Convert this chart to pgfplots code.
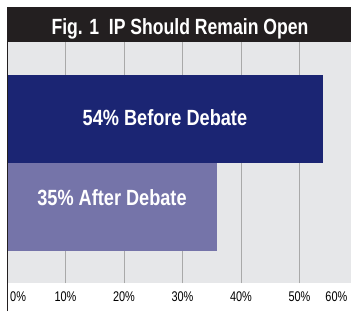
\documentclass[border=0pt]{standalone}
\usepackage{fontspec}
\usepackage{pgfplots}
\pgfplotsset{compat=1.18}
\newfontfamily\condt[FakeStretch=0.80]{Liberation Sans}
\newfontfamily\condb[FakeStretch=0.825]{Liberation Sans}
\newfontfamily\cond[FakeStretch=0.78]{Liberation Sans}
\definecolor{navy}{HTML}{1B2573}
\definecolor{lav}{HTML}{7574A9}
\definecolor{bg}{HTML}{E6E7E9}
\definecolor{gridc}{HTML}{A9A9A9}
\definecolor{titlebk}{HTML}{231F20}
\begin{document}
\begin{tikzpicture}
\fill[white] (0pt,0pt) rectangle (351pt,311pt);
\fill[titlebk] (7pt,269pt) rectangle (351pt,304pt);
\node[text=white, anchor=base, inner sep=0pt, font=\condt\bfseries\fontsize{22}{24}\selectfont] at (180pt,276.7pt) {Fig. 1\ \ IP Should Remain Open};
\begin{axis}[at={(7pt,28pt)}, anchor=south west, scale only axis,
  width=344pt, height=241pt,
  xmin=0, xmax=58.8, ymin=-0.858, ymax=1.88,
  axis background/.style={fill=bg},
  axis line style={draw=none},
  xbar, bar width=1, bar shift=0pt,
  ytick=\empty,
  xtick={10,20,30,40,50},
  xticklabels={10\%,20\%,30\%,40\%,50\%},
  extra x ticks={1.9,56.3},
  extra x tick labels={0\%,60\%},
  extra x tick style={grid=none},
  xmajorgrids, grid style={draw=gridc, line width=0.8pt},
  major tick length=0pt,
  xticklabel style={anchor=base, yshift=-18.7pt, inner sep=0pt, font=\cond\fontsize{14}{16}\selectfont},
  clip=false]
\addplot[fill=navy, draw=none] coordinates {(54,1)};
\addplot[fill=lav, draw=none] coordinates {(35.9,0)};
\node[text=white, anchor=base, inner sep=0pt, font=\condb\bfseries\fontsize{22}{24}\selectfont] at (axis cs:27,0.93) {54\% Before Debate};
\node[text=white, anchor=base, inner sep=0pt, font=\condb\bfseries\fontsize{22}{24}\selectfont] at (axis cs:17.95,0.028) {35\% After Debate};
\end{axis}
\draw[titlebk, line width=1.3pt] (7.5pt,0pt) -- (7.5pt,269pt);
\end{tikzpicture}
\end{document}
